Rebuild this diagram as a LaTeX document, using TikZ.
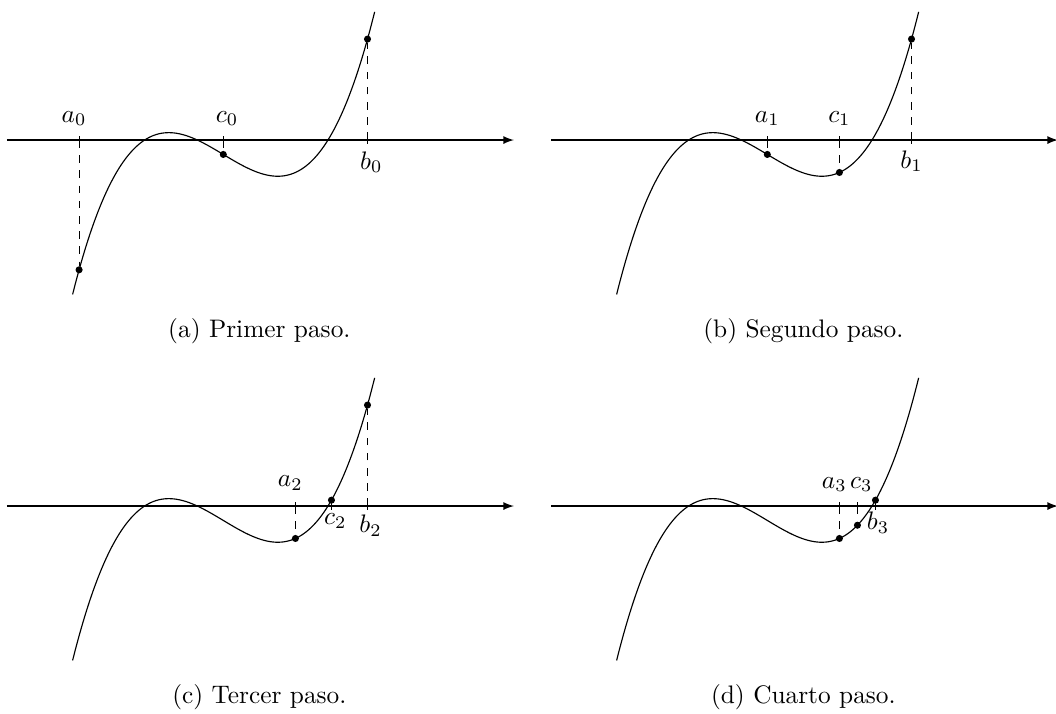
\documentclass[tikz,border=0pt]{standalone}
\usetikzlibrary{arrows,positioning}

\begin{document}
\begin{tikzpicture}[line width=.45pt,
    declare function={f(\x)=0.35*\x*\x*\x-0.6*\x-0.2;},
    punto/.style={circle,fill,inner sep=0pt,minimum size=2.8pt},
    guia/.style={dashed},
    rotulo/.style={inner sep=3.33pt}]
  \useasboundingbox (-3.097,-7.947) rectangle (11.549,1.942);

  % ejes y curva de los cuatro pasos
  \foreach \dx/\dy in {0/0, 7.545/0, 0/-5.076, 7.545/-5.076} {
    \begin{scope}[shift={(\dx,\dy)}]
      \draw[-latex] (-3,0) -- (4.03,0);
      \draw[domain=-2.09:2.1,samples=120,smooth] plot (\x,{f(\x)});
    \end{scope}
  }

  % (a) primer paso
  \begin{scope}
    \coordinate (a0) at (-2,0);
    \coordinate (c0) at (0,0);
    \coordinate (b0) at (2,0);
    \node[punto] (pa0) at (-2,{f(-2)}) {};
    \node[punto] (pc0) at (0,{f(0)}) {};
    \node[punto] (pb0) at (2,{f(2)}) {};
    \draw[guia] (a0) -- (pa0);
    \draw[guia] (c0) -- (pc0);
    \draw[guia] (b0) -- (pb0);
    \foreach \p in {a0,c0,b0} \draw (\p) ++(0,.05) -- ++(0,-.1);
    \node[rotulo,above=2pt,xshift=-2pt] (la0) at (a0) {$a_0$};
    \node[rotulo,above=2pt,xshift=1.5pt] (lc0) at (c0) {$c_0$};
    \node[rotulo,below=1pt,xshift=1.5pt] (lb0) at (b0) {$b_0$};
    \node[anchor=base] (pie-a) at (0.5,-2.74) {(a) Primer paso.};
  \end{scope}

  % (b) segundo paso
  \begin{scope}[shift={(7.545,0)}]
    \coordinate (a1) at (0,0);
    \coordinate (c1) at (1,0);
    \coordinate (b1) at (2,0);
    \node[punto] (pa1) at (0,{f(0)}) {};
    \node[punto] (pc1) at (1,{f(1)}) {};
    \node[punto] (pb1) at (2,{f(2)}) {};
    \draw[guia] (a1) -- (pa1);
    \draw[guia] (c1) -- (pc1);
    \draw[guia] (b1) -- (pb1);
    \foreach \p in {a1,c1,b1} \draw (\p) ++(0,.05) -- ++(0,-.1);
    \node[rotulo,above=2pt] (la1) at (a1) {$a_1$};
    \node[rotulo,above=2pt] (lc1) at (c1) {$c_1$};
    \node[rotulo,below=.6pt] (lb1) at (b1) {$b_1$};
    \node[anchor=base] (pie-b) at (0.5,-2.74) {(b) Segundo paso.};
  \end{scope}

  % (c) tercer paso
  \begin{scope}[shift={(0,-5.076)}]
    \coordinate (a2) at (1,0);
    \coordinate (c2) at (1.5,0);
    \coordinate (b2) at (2,0);
    \node[punto] (pa2) at (1,{f(1)}) {};
    \node[punto] (pc2) at (1.5,{f(1.5)}) {};
    \node[punto] (pb2) at (2,{f(2)}) {};
    \draw[guia] (a2) -- (pa2);
    \draw[guia] (c2) -- (pc2);
    \draw[guia] (b2) -- (pb2);
    \foreach \p in {a2,c2,b2} \draw (\p) ++(0,.05) -- ++(0,-.1);
    \node[rotulo,above=2.6pt,xshift=-2pt] (la2) at (a2) {$a_2$};
    \node[rotulo,below=-.6pt,xshift=1.5pt] (lc2) at (c2) {$c_2$};
    \node[rotulo,below=0pt,xshift=1.2pt] (lb2) at (b2) {$b_2$};
    \node[anchor=base] (pie-c) at (0.5,-2.74) {(c) Tercer paso.};
  \end{scope}

  % (d) cuarto paso
  \begin{scope}[shift={(7.545,-5.076)}]
    \coordinate (a3) at (1,0);
    \coordinate (c3) at (1.25,0);
    \coordinate (b3) at (1.5,0);
    \node[punto] (pa3) at (1,{f(1)}) {};
    \node[punto] (pc3) at (1.25,{f(1.25)}) {};
    \node[punto] (pb3) at (1.5,{f(1.5)}) {};
    \draw[guia] (a3) -- (pa3);
    \draw[guia] (c3) -- (pc3);
    \draw[guia] (b3) -- (pb3);
    \foreach \p in {a3,c3,b3} \draw (\p) ++(0,.05) -- ++(0,-.1);
    \node[rotulo,above=2pt,xshift=-2pt] (la3) at (a3) {$a_3$};
    \node[rotulo,above=2pt,xshift=1.5pt] (lc3) at (c3) {$c_3$};
    \node[rotulo,below=-1.3pt,xshift=1pt] (lb3) at (b3) {$b_3$};
    \node[anchor=base] (pie-d) at (0.5,-2.74) {(d) Cuarto paso.};
  \end{scope}
\end{tikzpicture}
\end{document}
